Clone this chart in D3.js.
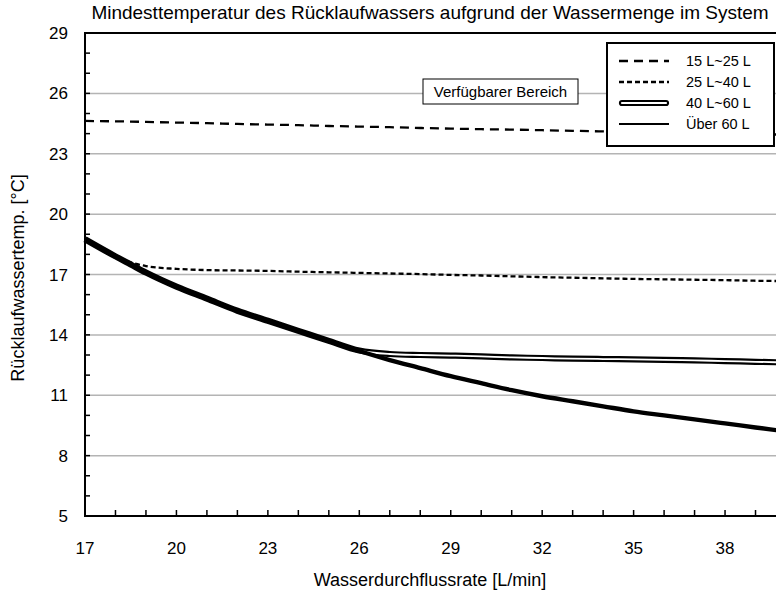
<!DOCTYPE html>
<html>
<head>
<meta charset="utf-8">
<script src="https://cdn.jsdelivr.net/npm/d3@7"></script>
<style>
  body { margin: 0; background: #fff; }
  svg { display: block; font-family: "Liberation Sans", Arial, sans-serif; }
  .tick-label { font-size: 17px; fill: #000; }
  .axis-label { font-size: 18px; fill: #000; }
  .title { font-size: 19px; fill: #000; }
</style>
</head>
<body>
<div id="chart"></div>
<script>
// values
const flowRates = [17, 18, 18.5, 19, 20, 21, 22, 23, 24, 25, 26, 27, 28, 29, 30, 31, 32, 33, 34, 35, 36, 37, 38, 39, 40];

const temp15to25 = [24.63, 24.61, 24.6, 24.58, 24.55, 24.52, 24.48, 24.45, 24.42, 24.38, 24.35, 24.32, 24.28, 24.25, 24.22, 24.2, 24.17, 24.14, 24.11, 24.08, 24.05, 24.02, 24.0, 23.97, 23.95];
const temp25to40 = [18.75, 17.85, 17.6, 17.42, 17.28, 17.22, 17.2, 17.18, 17.14, 17.11, 17.08, 17.05, 17.02, 16.98, 16.95, 16.91, 16.87, 16.84, 16.81, 16.78, 16.76, 16.74, 16.72, 16.69, 16.67];
const temp40to60 = [18.75, 17.9, 17.5, 17.1, 16.4, 15.8, 15.2, 14.7, 14.2, 13.7, 13.22, 13.05, 13.0, 12.97, 12.93, 12.88, 12.85, 12.82, 12.8, 12.78, 12.76, 12.73, 12.7, 12.66, 12.63];
const tempOver60 = [18.75, 17.9, 17.5, 17.1, 16.4, 15.8, 15.2, 14.7, 14.2, 13.7, 13.2, 12.75, 12.35, 11.95, 11.6, 11.25, 10.95, 10.7, 10.45, 10.2, 10.0, 9.8, 9.6, 9.4, 9.2];

const xTicks = [17, 20, 23, 26, 29, 32, 35, 38];
const yTicks = [5, 8, 11, 14, 17, 20, 23, 26, 29];
const seriesNames = ["15 L~25 L", "25 L~40 L", "40 L~60 L", "Über 60 L"];

const titleText = "Mindesttemperatur des Rücklaufwassers aufgrund der Wassermenge im System";
const xLabel = "Wasserdurchflussrate [L/min]";
const yLabel = "Rücklaufwassertemp. [°C]";
const rangeLabel = "Verfügbarer Bereich";

const width = 776, height = 592;
const margin = { top: 33, left: 85 };
const plotRight = 786, plotBottom = 516;

const svg = d3.select("#chart").append("svg")
  .attr("width", width).attr("height", height);

const x = d3.scaleLinear().domain([17, 40]).range([margin.left, plotRight]);
const y = d3.scaleLinear().domain([5, 29]).range([plotBottom, margin.top]);

// gridlines
svg.append("g")
  .selectAll("line")
  .data(yTicks.filter(d => d > 5 && d < 29))
  .join("line")
  .attr("x1", margin.left).attr("x2", plotRight)
  .attr("y1", d => y(d)).attr("y2", d => y(d))
  .attr("stroke", "#b4b4b4").attr("stroke-width", 1.5);

// series
const rows = flowRates.map((f, i) => ({
  f, a: temp15to25[i], b: temp25to40[i], c: temp40to60[i], d: tempOver60[i]
}));
const lineOf = key => d3.line()
  .x(r => x(r.f)).y(r => y(r[key]))
  .curve(d3.curveMonotoneX);

const lines = svg.append("g");
lines.append("path").datum(rows).attr("d", lineOf("a"))
  .attr("fill", "none").attr("stroke", "#000").attr("stroke-width", 2.3)
  .attr("stroke-dasharray", "9,6");
lines.append("path").datum(rows).attr("d", lineOf("b"))
  .attr("fill", "none").attr("stroke", "#000").attr("stroke-width", 2.3)
  .attr("stroke-dasharray", "5,3");
lines.append("path").datum(rows).attr("d", lineOf("c"))
  .attr("fill", "none").attr("stroke", "#000").attr("stroke-width", 6.2);
lines.append("path").datum(rows).attr("d", lineOf("c"))
  .attr("fill", "none").attr("stroke", "#fff").attr("stroke-width", 1.8);
lines.append("path").datum(rows).attr("d", lineOf("d"))
  .attr("fill", "none").attr("stroke", "#000").attr("stroke-width", 4.4);

// frame (left, top, bottom)
svg.append("path")
  .attr("d", `M${plotRight},${margin.top}H${margin.left}V${plotBottom}H${plotRight}`)
  .attr("fill", "none").attr("stroke", "#000").attr("stroke-width", 2);

// minor ticks
svg.append("g").selectAll("line")
  .data(d3.range(6, 29))
  .join("line")
  .attr("x1", margin.left).attr("x2", margin.left + 5)
  .attr("y1", d => y(d)).attr("y2", d => y(d))
  .attr("stroke", "#000").attr("stroke-width", 1.5);
svg.append("g").selectAll("line")
  .data(d3.range(18, 41))
  .join("line")
  .attr("x1", d => x(d)).attr("x2", d => x(d))
  .attr("y1", plotBottom).attr("y2", plotBottom - 6)
  .attr("stroke", "#000").attr("stroke-width", 1.5);

// tick labels
svg.append("g").selectAll("text")
  .data(yTicks)
  .join("text")
  .attr("class", "tick-label")
  .attr("x", 68).attr("y", d => y(d) + 6)
  .attr("text-anchor", "end")
  .text(d => d);
svg.append("g").selectAll("text")
  .data(xTicks)
  .join("text")
  .attr("class", "tick-label")
  .attr("x", d => x(d)).attr("y", 554)
  .attr("text-anchor", "middle")
  .text(d => d);

// title and axis labels
svg.append("text").attr("class", "title")
  .attr("x", 430).attr("y", 19).attr("text-anchor", "middle")
  .text(titleText);
svg.append("text").attr("class", "axis-label")
  .attr("x", 430).attr("y", 586).attr("text-anchor", "middle")
  .text(xLabel);
svg.append("text").attr("class", "axis-label")
  .attr("transform", "rotate(-90)")
  .attr("x", -278).attr("y", 24).attr("text-anchor", "middle")
  .text(yLabel);

// "Verfügbarer Bereich" box
svg.append("rect")
  .attr("x", 423).attr("y", 79).attr("width", 155).attr("height", 25)
  .attr("fill", "#fff").attr("stroke", "#000").attr("stroke-width", 1);
svg.append("text")
  .attr("x", 500.5).attr("y", 97).attr("text-anchor", "middle")
  .style("font-size", "15px")
  .text(rangeLabel);

// legend
const legend = svg.append("g");
legend.append("rect")
  .attr("x", 607).attr("y", 43).attr("width", 167).attr("height", 103)
  .attr("fill", "#fff").attr("stroke", "#000").attr("stroke-width", 2);
const rowY = i => 61 + i * 21;
const lx1 = 619, lx2 = 669;
legend.append("line").attr("x1", lx1).attr("x2", lx2).attr("y1", rowY(0)).attr("y2", rowY(0))
  .attr("stroke", "#000").attr("stroke-width", 2.3).attr("stroke-dasharray", "9,6");
legend.append("line").attr("x1", lx1).attr("x2", lx2).attr("y1", rowY(1)).attr("y2", rowY(1))
  .attr("stroke", "#000").attr("stroke-width", 2.3).attr("stroke-dasharray", "5,3");
legend.append("line").attr("x1", lx1 + 3).attr("x2", lx2 - 3).attr("y1", rowY(2)).attr("y2", rowY(2))
  .attr("stroke", "#000").attr("stroke-width", 6.2).attr("stroke-linecap", "round");
legend.append("line").attr("x1", lx1 + 3).attr("x2", lx2 - 3).attr("y1", rowY(2)).attr("y2", rowY(2))
  .attr("stroke", "#fff").attr("stroke-width", 2.2).attr("stroke-linecap", "round");
legend.append("line").attr("x1", lx1).attr("x2", lx2).attr("y1", rowY(3)).attr("y2", rowY(3))
  .attr("stroke", "#000").attr("stroke-width", 2.2);
legend.selectAll("text.leg")
  .data(seriesNames)
  .join("text")
  .attr("class", "leg")
  .attr("x", 686).attr("y", (d, i) => rowY(i) + 5)
  .style("font-size", "14.5px")
  .text(d => d);
</script>
</body>
</html>
